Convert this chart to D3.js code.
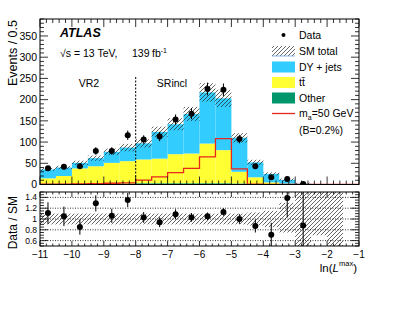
<!DOCTYPE html>
<html>
<head>
<meta charset="utf-8">
<script src="https://cdn.jsdelivr.net/npm/d3@7"></script>
<style>
  body { margin: 0; background: #fff; }
  svg { font-family: "Liberation Sans", Arial, sans-serif; display: block; }
</style>
</head>
<body>
<svg id="chart" width="399" height="309"></svg>
<script>
// bin edges: -11 .. -1 in steps of 0.5 (20 bins)
const binLow = [-11, -10.5, -10, -9.5, -9, -8.5, -8, -7.5, -7, -6.5, -6, -5.5, -5, -4.5, -4, -3.5, -3, -2.5, -2, -1.5];
const binWidth = 0.5;

// stacked backgrounds (events / 0.5)
const other = [2, 2, 2, 2, 2.5, 2.5, 3, 3, 3, 3, 3, 3, 2.5, 1.5, 1, 0.5, 0.2, 0, 0, 0];
const ttbar = [12.5, 18, 36, 41, 48.5, 52.5, 56, 58, 68.5, 70, 93.5, 78, 27.5, 15.5, 4, 1.5, 0.3, 0, 0, 0];
const dyjets = [21, 20, 13, 19, 26, 32, 38, 63, 70.5, 93, 120.5, 122, 80, 35, 20, 9, 1.5, 0.3, 0.2, 0];
// relative SM uncertainty (down / up)
const smErrLo = [0.1, 0.1, 0.1, 0.1, 0.1, 0.1, 0.1, 0.1, 0.1, 0.1, 0.1, 0.1, 0.1, 0.12, 0.15, 0.25, 1, 0.3, 1, 0];
const smErrHi = [0.1, 0.1, 0.1, 0.1, 0.1, 0.1, 0.1, 0.1, 0.1, 0.1, 0.1, 0.1, 0.1, 0.12, 0.15, 0.3, 1, 1, 1, 0];
// signal m_a = 50 GeV
const signal = [1, 1, 1.5, 2, 3, 4, 10.5, 18, 28, 38, 65, 108, 37, 1, 0.5, 0, 0, 0, 0, 0];

// data (first 17 bins)
const dataVals = [38, 42, 43, 79, 79, 116, 106, 113, 153, 167, 225, 223, 107, 43, 17, 13, 1];
const dataErr = [6, 6.5, 6.5, 9, 9, 11, 10, 11, 12, 13, 15, 15, 10, 6.5, 4, 3.6, 1];
const ratioVals = [1.11, 1.05, 0.85, 1.29, 1.06, 1.35, 1.03, 0.94, 1.09, 1.03, 1.05, 1.13, 1.0, 0.87, 0.71, 1.39, 0.88];
const ratioErr = [0.2, 0.18, 0.14, 0.15, 0.13, 0.13, 0.1, 0.09, 0.09, 0.08, 0.07, 0.07, 0.09, 0.12, 0.22, 0.36, 1.0];

const xTicks = [-11, -10, -9, -8, -7, -6, -5, -4, -3, -2, -1];
const yTicksMain = [0, 50, 100, 150, 200, 250, 300, 350];
const yTicksRatio = [0.6, 0.8, 1, 1.2, 1.4];

const colDY = "#33ccff", colTT = "#ffff33", colOther = "#00966b", colSig = "#e8251f";

const svg = d3.select("#chart");
const L = 40, R = 359;
const main = { t: 19, b: 184.5 };
const rat = { t: 192, b: 246 };

const x = d3.scaleLinear().domain([-11, -1]).range([L, R]);
const y = d3.scaleLinear().domain([0, 390]).range([main.b, main.t]);
const yr = d3.scaleLinear().domain([0.5, 1.5]).range([rat.b, rat.t]);

const defs = svg.append("defs");
defs.append("pattern").attr("id", "hatch").attr("patternUnits", "userSpaceOnUse")
  .attr("width", 4).attr("height", 4)
  .append("path").attr("d", "M0,4 L4,0 M-1,1 L1,-1 M3,5 L5,3")
  .attr("stroke", "#222").attr("stroke-width", 0.7);
defs.append("clipPath").attr("id", "clipMain").append("rect")
  .attr("x", L).attr("y", main.t).attr("width", R - L).attr("height", main.b - main.t);
defs.append("clipPath").attr("id", "clipRat").append("rect")
  .attr("x", L).attr("y", rat.t).attr("width", R - L).attr("height", rat.b - rat.t);

const bins = binLow.map((lo, i) => {
  const o = other[i], t = ttbar[i], d = dyjets[i];
  const sm = o + t + d;
  return { lo, hi: lo + binWidth, o, t, d, sm, eLo: smErrLo[i], eHi: smErrHi[i], sig: signal[i] };
});

// ---- main panel ----
const gm = svg.append("g").attr("clip-path", "url(#clipMain)");
const stackLayers = [
  { key: "o", base: d => 0, top: d => d.o, color: colOther },
  { key: "t", base: d => d.o, top: d => d.o + d.t, color: colTT },
  { key: "d", base: d => d.o + d.t, top: d => d.sm, color: colDY },
];
stackLayers.forEach(layer => {
  gm.selectAll(null).data(bins.filter(b => layer.top(b) > layer.base(b))).join("rect")
    .attr("x", d => x(d.lo)).attr("width", d => x(d.hi) - x(d.lo))
    .attr("y", d => y(layer.top(d)))
    .attr("height", d => y(layer.base(d)) - y(layer.top(d)))
    .attr("fill", layer.color);
});
gm.selectAll(null).data(bins.filter(b => b.sm > 0)).join("rect")
  .attr("x", d => x(d.lo)).attr("width", d => x(d.hi) - x(d.lo))
  .attr("y", d => y(d.sm * (1 + d.eHi)))
  .attr("height", d => y(d.sm * (1 - d.eLo)) - y(d.sm * (1 + d.eHi)))
  .attr("fill", "url(#hatch)");

const sigPts = bins.map(b => [b.lo, b.sig]).concat([[-1, bins[bins.length - 1].sig]]);
gm.append("path").datum(sigPts)
  .attr("d", d3.line().x(d => x(d[0])).y(d => y(d[1])).curve(d3.curveStepAfter))
  .attr("fill", "none").attr("stroke", colSig).attr("stroke-width", 1.3);

// region divider
svg.append("line").attr("x1", x(-8)).attr("x2", x(-8)).attr("y1", 77).attr("y2", main.b)
  .attr("stroke", "#000").attr("stroke-width", 1).attr("stroke-dasharray", "2,1.5");

const pts = dataVals.map((v, i) => ({ xc: binLow[i] + binWidth / 2, v, e: dataErr[i], r: ratioVals[i], re: ratioErr[i] }));
gm.selectAll(null).data(pts).join("line")
  .attr("x1", d => x(d.xc)).attr("x2", d => x(d.xc))
  .attr("y1", d => y(d.v - d.e)).attr("y2", d => y(d.v + d.e))
  .attr("stroke", "#000").attr("stroke-width", 1);
gm.selectAll(null).data(pts).join("circle")
  .attr("cx", d => x(d.xc)).attr("cy", d => y(d.v)).attr("r", 3).attr("fill", "#000");

// ---- ratio panel ----
const gr = svg.append("g").attr("clip-path", "url(#clipRat)");
gr.selectAll(null).data(yTicksRatio).join("line")
  .attr("x1", L).attr("x2", R).attr("y1", d => yr(d)).attr("y2", d => yr(d))
  .attr("stroke", "#000").attr("stroke-width", 0.8).attr("stroke-dasharray", "1,1.5");
gr.selectAll(null).data(bins.filter(b => b.eLo + b.eHi > 0)).join("rect")
  .attr("x", d => x(d.lo)).attr("width", d => x(d.hi) - x(d.lo))
  .attr("y", d => yr(1 + d.eHi)).attr("height", d => yr(1 - d.eLo) - yr(1 + d.eHi))
  .attr("fill", "url(#hatch)");
gr.selectAll(null).data(pts).join("line")
  .attr("x1", d => x(d.xc)).attr("x2", d => x(d.xc))
  .attr("y1", d => yr(d.r - d.re)).attr("y2", d => yr(d.r + d.re))
  .attr("stroke", "#000").attr("stroke-width", 1);
gr.selectAll(null).data(pts).join("circle")
  .attr("cx", d => x(d.xc)).attr("cy", d => yr(d.r)).attr("r", 3).attr("fill", "#000");

// ---- axes / frames (ROOT style, ticks inside on all sides) ----
function frame(top, bottom, yScale, yMajor, yMinorStep, majLen, labelFont, showX) {
  const g = svg.append("g");
  const xMinor = d3.range(-11, -0.99, 0.2).map(v => +v.toFixed(2));
  const yDom = yScale.domain();
  const yMinor = d3.range(yDom[0], yDom[1] + 1e-9, yMinorStep).map(v => +v.toFixed(3));
  const tick = (x1, y1, x2, y2) => g.append("line").attr("x1", x1).attr("y1", y1).attr("x2", x2).attr("y2", y2)
    .attr("stroke", "#000").attr("stroke-width", 0.8);
  xMinor.forEach(v => {
    const len = Math.abs(v - Math.round(v)) < 1e-6 ? majLen : majLen / 2;
    tick(x(v), bottom, x(v), bottom - len);
    tick(x(v), top, x(v), top + len);
  });
  yMinor.forEach(v => {
    const len = yMajor.some(m => Math.abs(m - v) < 1e-6) ? 8 : 4;
    tick(L, yScale(v), L + len, yScale(v));
    tick(R, yScale(v), R - len, yScale(v));
  });
  g.append("rect").attr("x", L).attr("y", top).attr("width", R - L).attr("height", bottom - top)
    .attr("fill", "none").attr("stroke", "#000").attr("stroke-width", 1);
  g.selectAll("text.yl").data(yMajor).join("text").attr("class", "yl")
    .attr("x", L - 3).attr("y", d => yScale(d)).attr("dy", "0.35em")
    .attr("text-anchor", "end").style("font-size", labelFont + "px")
    .text(d => d3.format("~g")(d));
  if (showX) {
    g.selectAll("text.xl").data(xTicks).join("text").attr("class", "xl")
      .attr("x", d => x(d)).attr("y", bottom + 12)
      .attr("text-anchor", "middle").style("font-size", "10px")
      .text(d => d3.format("d")(d));
  }
}
frame(main.t, main.b, y, yTicksMain, 10, 8, 10.5, false);
frame(rat.t, rat.b, yr, yTicksRatio, 0.05, 5, 8.5, true);

// axis titles
svg.append("text").attr("transform", `translate(17,${main.t + 1}) rotate(-90)`)
  .attr("text-anchor", "end").style("font-size", "12.5px").text("Events / 0.5");
svg.append("text").attr("transform", `translate(17,${rat.t + 4}) rotate(-90)`)
  .attr("text-anchor", "end").style("font-size", "12px").text("Data / SM");
const xt = svg.append("text").attr("x", R - 2).attr("y", 272).attr("text-anchor", "end").style("font-size", "11.5px");
xt.append("tspan").text("ln(");
xt.append("tspan").style("font-style", "italic").text("L");
xt.append("tspan").attr("dy", -6).style("font-size", "7.5px").text("max");
xt.append("tspan").attr("dy", 6).text(")");

// labels
svg.append("text").attr("x", 60).attr("y", 37).style("font-size", "12.5px")
  .style("font-weight", "bold").style("font-style", "italic").text("ATLAS");
const lum = svg.append("text").attr("y", 57).style("font-size", "10.5px");
lum.append("tspan").attr("x", 60).text("√s = 13 TeV,");
lum.append("tspan").attr("x", 132).text("139");
lum.append("tspan").attr("x", 152).text("fb");
lum.append("tspan").attr("dy", -4.5).style("font-size", "7px").text("-1");
svg.append("text").attr("x", 89).attr("y", 87).attr("text-anchor", "middle").style("font-size", "10.5px").text("VR2");
svg.append("text").attr("x", 172).attr("y", 87).attr("text-anchor", "middle").style("font-size", "10.5px").text("SRincl");

// legend
const lg = svg.append("g");
const lx = 272, lw = 23, tx = 299;
const rows = [
  { label: "Data", y: 35, kind: "marker" },
  { label: "SM total", y: 51, kind: "hatch" },
  { label: "DY + jets", y: 67, kind: "box", color: colDY },
  { label: "tt\u0304", y: 82.5, kind: "box", color: colTT },
  { label: "Other", y: 98, kind: "box", color: colOther },
  { label: "m", y: 113.5, kind: "line", color: colSig },
];
rows.forEach(r => {
  if (r.kind === "marker") lg.append("circle").attr("cx", lx + lw / 2).attr("cy", r.y).attr("r", 2).attr("fill", "#000");
  if (r.kind === "hatch") {
    lg.append("rect").attr("x", lx).attr("y", r.y - 5).attr("width", lw).attr("height", 10).attr("fill", "url(#hatch)");
    lg.append("line").attr("x1", lx).attr("x2", lx + lw).attr("y1", r.y + 5).attr("y2", r.y + 5)
      .attr("stroke", "#6fa8dc").attr("stroke-width", 0.8);
  }
  if (r.kind === "box") lg.append("rect").attr("x", lx).attr("y", r.y - 5.5).attr("width", lw).attr("height", 11).attr("fill", r.color);
  if (r.kind === "line") lg.append("line").attr("x1", lx).attr("x2", lx + lw).attr("y1", r.y).attr("y2", r.y)
    .attr("stroke", r.color).attr("stroke-width", 1.3);
  const t = lg.append("text").attr("x", tx).attr("y", r.y).attr("dy", "0.35em").style("font-size", "10.5px");
  if (r.kind === "line") {
    t.append("tspan").text("m");
    t.append("tspan").attr("dy", 2.5).style("font-size", "7px").text("a");
    t.append("tspan").attr("dy", -2.5).text("=50 GeV");
  } else {
    t.text(r.label);
  }
});
lg.append("text").attr("x", tx).attr("y", 130.5).attr("dy", "0.35em").style("font-size", "10.5px").text("(B=0.2%)");
</script>
</body>
</html>
